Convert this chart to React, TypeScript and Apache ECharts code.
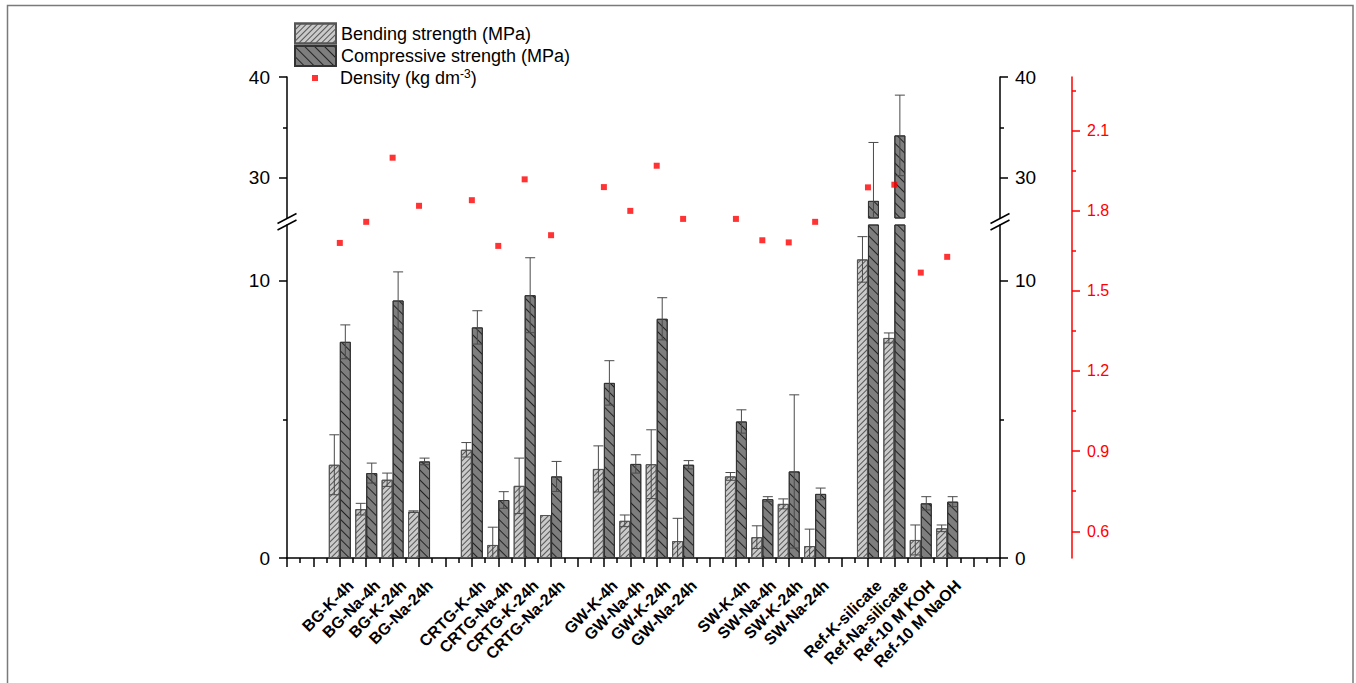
import React, { useEffect, useRef } from 'react';
import * as echarts from 'echarts';

// ---------- data ----------
const samples = [
  'BG-K-4h', 'BG-Na-4h', 'BG-K-24h', 'BG-Na-24h',
  'CRTG-K-4h', 'CRTG-Na-4h', 'CRTG-K-24h', 'CRTG-Na-24h',
  'GW-K-4h', 'GW-Na-4h', 'GW-K-24h', 'GW-Na-24h',
  'SW-K-4h', 'SW-Na-4h', 'SW-K-24h', 'SW-Na-24h',
  'Ref-K-silicate', 'Ref-Na-silicate', 'Ref-10 M KOH', 'Ref-10 M NaOH',
];
const positions = [2, 3, 4, 5, 7, 8, 9, 10, 12, 13, 14, 15, 17, 18, 19, 20, 22, 23, 24, 25];
const bending = [3.36, 1.76, 2.82, 1.67, 3.9, 0.47, 2.6, 1.55, 3.21, 1.34, 3.38, 0.61, 2.94, 0.75, 1.95, 0.43, 10.76, 7.93, 0.65, 1.07];
const bendingErr = [1.08, 0.21, 0.24, 0.03, 0.26, 0.64, 1.0, 0, 0.83, 0.21, 1.24, 0.82, 0.14, 0.41, 0.18, 0.61, 0.82, 0.18, 0.54, 0.12];
const compressive = [7.79, 3.06, 9.28, 3.48, 8.31, 2.09, 9.47, 2.94, 6.31, 3.39, 8.62, 3.36, 4.92, 2.12, 3.12, 2.31, 27.7, 34.2, 1.97, 2.03];
const compressiveErr = [0.61, 0.36, 1.03, 0.12, 0.6, 0.3, 1.35, 0.54, 0.8, 0.33, 0.76, 0.15, 0.42, 0.09, 2.76, 0.21, 5.8, 4.0, 0.24, 0.18];
const density = [1.679, 1.758, 1.998, 1.818, 1.839, 1.668, 1.917, 1.708, 1.888, 1.799, 1.968, 1.769, 1.769, 1.689, 1.681, 1.758, 1.887, 1.897, 1.568, 1.627];

const lowerTicks = [0, 10];
const lowerMinor = [5];
const upperTicks = [30, 40];
const upperMinor = [35];
const densityTicks = [0.6, 0.9, 1.2, 1.5, 1.8, 2.1];
const densityMinor = [0.75, 1.05, 1.35, 1.65, 1.95, 2.25];

const BEND = 'Bending strength (MPa)';
const COMP = 'Compressive strength (MPa)';
const DENS = 'Density (kg dm-3)';

const FONT = 'Arial, "Liberation Sans", Helvetica, sans-serif';

// ---------- helpers ----------
const bendData = positions.map((p, i) => [p, bending[i]]);
const compData = positions.map((p, i) => [p, compressive[i]]);
const bendErrData = positions.map((p, i) => [p, bending[i], bendingErr[i]]);
const compErrData = positions.map((p, i) => [p, compressive[i], compressiveErr[i]]);
const densData = positions.map((p, i) => [p, density[i]]);

const bendStyle = {
  color: '#cacaca',
  borderColor: '#555',
  borderWidth: 1,
  decal: {
    symbol: 'rect',
    symbolSize: 1,
    dashArrayX: [1, 0],
    dashArrayY: [1, 3],
    rotation: -Math.PI / 4,
    color: '#555',
  },
};
const compStyle = {
  color: '#7e7e7e',
  borderColor: '#333',
  borderWidth: 1,
  decal: {
    symbol: 'rect',
    symbolSize: 1,
    dashArrayX: [1, 0],
    dashArrayY: [1, 5.5],
    rotation: Math.PI / 4,
    color: '#222',
  },
};

function errRender(offset: number) {
  return (params: any, api: any) => {
    const x = api.value(0);
    const v = api.value(1);
    const e = api.value(2);
    if (!e) return null;
    const top = api.coord([x, v + e]);
    const bot = api.coord([x, v - e]);
    const cs = params.coordSys;
    const cx = top[0] + offset;
    const y0 = cs.y;
    const y1 = cs.y + cs.height;
    const t = Math.max(top[1], y0);
    const b = Math.min(bot[1], y1);
    if (t >= b) return null;
    const st = { stroke: '#4a4a4a', lineWidth: 1, fill: 'none' };
    const half = 5;
    const children: any[] = [
      { type: 'line', shape: { x1: cx, y1: t, x2: cx, y2: b }, style: st },
    ];
    if (top[1] >= y0 && top[1] <= y1) {
      children.push({ type: 'line', shape: { x1: cx - half, y1: top[1], x2: cx + half, y2: top[1] }, style: st });
    }
    if (bot[1] >= y0 && bot[1] <= y1) {
      children.push({ type: 'line', shape: { x1: cx - half, y1: bot[1], x2: cx + half, y2: bot[1] }, style: st });
    }
    return { type: 'group', children };
  };
}

function majorAxis(gridIndex: number, min: number, max: number, majors: number[], position: 'left' | 'right') {
  return {
    type: 'value',
    gridIndex,
    position,
    min,
    max,
    axisLine: { show: true, onZero: false, lineStyle: { color: '#000', width: 1.5 } },
    axisTick: { show: true, inside: false, length: 8, customValues: majors, lineStyle: { color: '#000', width: 1.5 } },
    axisLabel: {
      show: true,
      customValues: majors,
      margin: position === 'left' ? 17 : 15,
      fontSize: 19,
      color: '#000',
      fontFamily: FONT,
    },
    splitLine: { show: false },
  };
}
function minorAxis(gridIndex: number, min: number, max: number, minors: number[], position: 'left' | 'right', color = '#000', offset = 0) {
  return {
    type: 'value',
    gridIndex,
    position,
    offset,
    min,
    max,
    axisLine: { show: false, onZero: false },
    axisTick: { show: true, inside: false, length: 4, customValues: minors, lineStyle: { color, width: 1.5 } },
    axisLabel: { show: false },
    splitLine: { show: false },
  };
}

const GRID_LEFT = 287;
const GRID_W = 713;
const LOWER = { left: GRID_LEFT, top: 225, width: GRID_W, height: 333 };
const UPPER = { left: GRID_LEFT, top: 77, width: GRID_W, height: 141 };
const FULL = { left: GRID_LEFT, top: 77, width: GRID_W, height: 481 };

const breakLines: any[] = [];
[GRID_LEFT, GRID_LEFT + GRID_W].forEach((x) => {
  [218.5, 225].forEach((y) => {
    breakLines.push({
      type: 'line',
      shape: { x1: x - 9.5, y1: y + 5, x2: x + 9.5, y2: y - 5 },
      style: { stroke: '#000', lineWidth: 1.5 },
      z: 100,
    });
  });
});

const hiddenX = (gridIndex: number) => ({ type: 'value', gridIndex, min: 0, max: 27, interval: 1, show: false });

const option: any = {
  animation: false,
  backgroundColor: '#fff',
  textStyle: { fontFamily: FONT },
  grid: [
    LOWER, // 0 lower bars
    UPPER, // 1 upper bars
    FULL, // 2 density
    { ...LOWER, left: GRID_LEFT + 11 }, // 3 category labels
    LOWER, // 4 lower minor ticks
    UPPER, // 5 upper minor ticks
    FULL, // 6 density minor ticks
  ],
  xAxis: [
    {
      type: 'value',
      gridIndex: 0,
      min: 0,
      max: 27,
      interval: 1,
      axisLine: { show: true, onZero: false, lineStyle: { color: '#000', width: 1.5 } },
      axisTick: { show: true, inside: false, length: 9, lineStyle: { color: '#000', width: 1.5 } },
      minorTick: { show: true, splitNumber: 2, length: 5, lineStyle: { color: '#000', width: 1.5 } },
      axisLabel: { show: false },
      splitLine: { show: false },
    },
    hiddenX(1),
    hiddenX(2),
    {
      type: 'value',
      gridIndex: 3,
      min: 0,
      max: 27,
      interval: 1,
      axisLine: { show: false, onZero: false },
      axisTick: { show: false },
      splitLine: { show: false },
      axisLabel: {
        show: true,
        rotate: 45,
        margin: 25,
        fontSize: 16,
        fontWeight: 'bold',
        color: '#000',
        fontFamily: FONT,
        formatter: (v: number) => {
          const i = positions.indexOf(Math.round(v));
          return i >= 0 && Math.abs(v - positions[i]) < 1e-6 ? samples[i] : '';
        },
      },
    },
    hiddenX(4),
    hiddenX(5),
    hiddenX(6),
  ],
  yAxis: [
    majorAxis(0, 0, 12, lowerTicks, 'left'), // 0
    majorAxis(0, 0, 12, lowerTicks, 'right'), // 1
    majorAxis(1, 26, 40, upperTicks, 'left'), // 2
    majorAxis(1, 26, 40, upperTicks, 'right'), // 3
    {
      type: 'value',
      gridIndex: 2,
      position: 'right',
      offset: 72,
      min: 0.5,
      max: 2.3,
      axisLine: { show: true, onZero: false, lineStyle: { color: '#ff0000', width: 1.5 } },
      axisTick: { show: true, inside: false, length: 8, customValues: densityTicks, lineStyle: { color: '#ff0000', width: 1.5 } },
      axisLabel: {
        show: true,
        customValues: densityTicks,
        margin: 15,
        fontSize: 16,
        color: '#ff0000',
        fontFamily: FONT,
        formatter: (v: number) => v.toFixed(1),
      },
      splitLine: { show: false },
    }, // 4
    { type: 'value', gridIndex: 3, min: 0, max: 1, show: false, axisLine: { onZero: false } }, // 5
    minorAxis(4, 0, 12, lowerMinor, 'left'), // 6
    minorAxis(4, 0, 12, lowerMinor, 'right'), // 7
    minorAxis(5, 26, 40, upperMinor, 'left'), // 8
    minorAxis(5, 26, 40, upperMinor, 'right'), // 9
    minorAxis(6, 0.5, 2.3, densityMinor, 'right', '#ff0000', 72), // 10
  ],
  legend: [
    {
      data: [BEND],
      left: 294,
      top: 22.5,
      padding: 0,
      itemWidth: 41,
      itemHeight: 20,
      icon: 'rect',
      selectedMode: false,
      textStyle: { fontSize: 18, color: '#000', fontFamily: FONT },
    },
    {
      data: [COMP],
      left: 294,
      top: 45,
      padding: 0,
      itemWidth: 41,
      itemHeight: 20,
      icon: 'rect',
      selectedMode: false,
      textStyle: { fontSize: 18, color: '#000', fontFamily: FONT },
    },
    {
      data: [DENS],
      left: 312,
      top: 68,
      padding: 0,
      itemWidth: 6,
      itemHeight: 6,
      icon: 'rect',
      selectedMode: false,
      formatter: () => '{sp|}{t|Density (kg dm}{sup|-3}{t|)}',
      textStyle: {
        fontSize: 18,
        color: '#000',
        fontFamily: FONT,
        rich: {
          sp: { width: 17 },
          t: { fontSize: 18, color: '#000', fontFamily: FONT },
          sup: { fontSize: 12, color: '#000', fontFamily: FONT, verticalAlign: 'top', padding: [0, 0, 8, 0] },
        },
      },
    },
  ],
  graphic: [
    {
      type: 'rect',
      shape: { x: 7.5, y: 5.5, width: 1345.5, height: 720 },
      style: { fill: 'none', stroke: '#7a7a7a', lineWidth: 1.5 },
      silent: true,
    },
    ...breakLines,
  ],
  series: [
    { type: 'bar', name: BEND, xAxisIndex: 0, yAxisIndex: 0, data: bendData, barWidth: 11, barGap: '0%', itemStyle: bendStyle },
    { type: 'bar', name: COMP, xAxisIndex: 0, yAxisIndex: 0, data: compData, barWidth: 11, barGap: '0%', itemStyle: compStyle },
    { type: 'bar', name: BEND, xAxisIndex: 1, yAxisIndex: 2, data: bendData, barWidth: 11, barGap: '0%', itemStyle: bendStyle },
    { type: 'bar', name: COMP, xAxisIndex: 1, yAxisIndex: 2, data: compData, barWidth: 11, barGap: '0%', itemStyle: compStyle },
    { type: 'custom', name: 'errB0', xAxisIndex: 0, yAxisIndex: 0, data: bendErrData, renderItem: errRender(-5.5), z: 5 },
    { type: 'custom', name: 'errC0', xAxisIndex: 0, yAxisIndex: 0, data: compErrData, renderItem: errRender(5.5), z: 5 },
    { type: 'custom', name: 'errB1', xAxisIndex: 1, yAxisIndex: 2, data: bendErrData, renderItem: errRender(-5.5), z: 5 },
    { type: 'custom', name: 'errC1', xAxisIndex: 1, yAxisIndex: 2, data: compErrData, renderItem: errRender(5.5), z: 5 },
    {
      type: 'scatter',
      name: DENS,
      xAxisIndex: 2,
      yAxisIndex: 4,
      data: densData,
      symbol: 'rect',
      symbolSize: 6,
      itemStyle: { color: '#ff0000' },
      z: 10,
    },
  ],
};

export default function App() {
  const ref = useRef<HTMLDivElement>(null);
  useEffect(() => {
    const chart = echarts.init(ref.current as HTMLDivElement, undefined, { renderer: 'svg' });
    chart.setOption(option);
    return () => chart.dispose();
  }, []);
  return (
    <div
      ref={ref}
      style={{ position: 'absolute', left: 0, top: 0, width: 1356, height: 683, background: '#fff' }}
    />
  );
}
